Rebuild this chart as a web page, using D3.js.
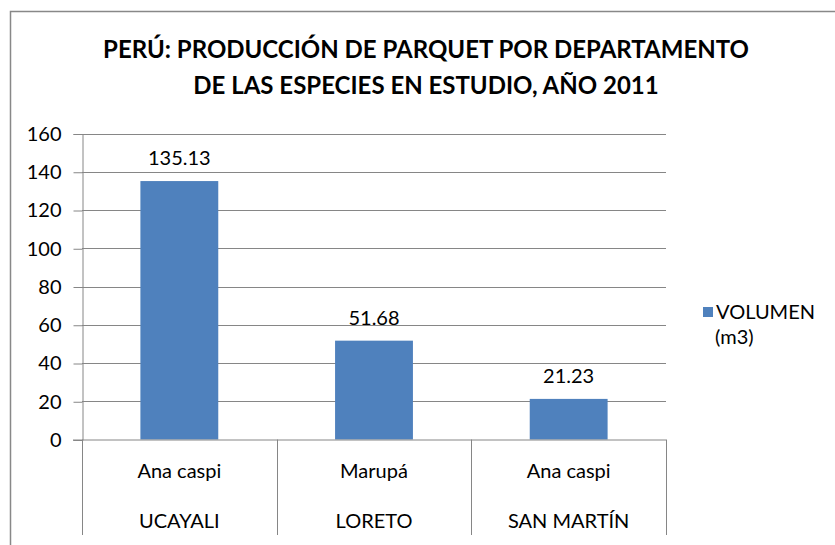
<!DOCTYPE html>
<html>
<head>
<meta charset="utf-8">
<script src="https://d3js.org/d3.v7.min.js"></script>
<style>
  body { margin: 0; background: #fff; }
  text { font-family: Lato, "Open Sans", sans-serif; fill: #000; }
  .grid line { stroke: #868686; stroke-width: 1px; }
</style>
</head>
<body>
<div id="chart"></div>
<script>
const species = ["Ana caspi", "Marupá", "Ana caspi"];
const departments = ["UCAYALI", "LORETO", "SAN MARTÍN"];
const volumes = [135.13, 51.68, 21.23];
const yTicks = [0, 20, 40, 60, 80, 100, 120, 140, 160];
const titleLines = ["PERÚ: PRODUCCIÓN DE PARQUET POR DEPARTAMENTO", "DE LAS ESPECIES EN ESTUDIO, AÑO 2011"];
const seriesName = ["VOLUMEN", "(m3)"];

const W = 835, H = 545;
const plotL = 82, plotR = 666, plotT = 133.5, plotB = 439.5;
const fs = "20px";

const svg = d3.select("#chart").append("svg")
  .attr("width", W).attr("height", H);

// outer frame
svg.append("rect")
  .attr("x", 10.5).attr("y", 11.5)
  .attr("width", 840).attr("height", 560)
  .attr("fill", "#fff").attr("stroke", "#888").attr("stroke-width", 1.5);

// title
svg.append("g").selectAll("text").data(titleLines).join("text")
  .attr("x", 426).attr("y", (d, i) => 58 + i * 36)
  .attr("text-anchor", "middle")
  .style("font-size", "24px").style("font-weight", "bold")
  .text(d => d);

const x = d3.scaleBand().domain(d3.range(volumes.length)).range([plotL, plotR]).paddingInner(0).paddingOuter(0);
const y = d3.scaleLinear().domain([0, 160]).range([plotB, plotT]);

// gridlines + y axis
const g = svg.append("g");
g.append("g").attr("class", "grid").selectAll("line").data(yTicks.filter(t => t > 0)).join("line")
  .attr("x1", plotL).attr("x2", plotR)
  .attr("y1", d => Math.round(y(d)) + 0.5).attr("y2", d => Math.round(y(d)) + 0.5);

const yAxis = g.append("g")
  .attr("transform", `translate(${plotL + 0.5},0.5)`)
  .call(d3.axisLeft(y).tickValues(yTicks).tickSize(9).tickPadding(12));
yAxis.select(".domain").attr("stroke", "#868686");
yAxis.selectAll(".tick line").attr("stroke", "#868686");
yAxis.selectAll(".tick text").style("font-size", fs).attr("fill", "#000");

// bars
const bw = x.bandwidth() * 0.4;
g.append("g").selectAll("rect").data(volumes).join("rect")
  .attr("x", (d, i) => x(i) + (x.bandwidth() - bw) / 2)
  .attr("y", d => y(d))
  .attr("width", bw)
  .attr("height", d => y(0) - y(d))
  .attr("fill", "#4F81BD");

// data labels
g.append("g").selectAll("text").data(volumes).join("text")
  .attr("x", (d, i) => x(i) + x.bandwidth() / 2)
  .attr("y", d => y(d) - 16)
  .attr("text-anchor", "middle")
  .style("font-size", fs)
  .text(d => d.toFixed(2));

// x axis baseline and category separators
g.append("line")
  .attr("x1", plotL - 9).attr("x2", plotR)
  .attr("y1", plotB + 0.5).attr("y2", plotB + 0.5)
  .attr("stroke", "#868686");
const sepX = d3.range(volumes.length + 1).map(i => i < volumes.length ? x(i) : x(i - 1) + x.bandwidth());
g.append("g").selectAll("line").data(sepX).join("line")
  .attr("x1", d => Math.round(d) + 0.5).attr("x2", d => Math.round(d) + 0.5)
  .attr("y1", plotB).attr("y2", 535)
  .attr("stroke", "#868686");

// two-level category labels
g.append("g").selectAll("text").data(species).join("text")
  .attr("x", (d, i) => x(i) + x.bandwidth() / 2)
  .attr("y", 478)
  .attr("text-anchor", "middle")
  .style("font-size", fs)
  .text(d => d);
g.append("g").selectAll("text").data(departments).join("text")
  .attr("x", (d, i) => x(i) + x.bandwidth() / 2)
  .attr("y", 528)
  .attr("text-anchor", "middle")
  .style("font-size", fs)
  .text(d => d);

// legend
const lg = svg.append("g");
lg.append("rect").attr("x", 703).attr("y", 307).attr("width", 10).attr("height", 10).attr("fill", "#4F81BD");
lg.selectAll("text").data(seriesName).join("text")
  .attr("x", (d, i) => i === 0 ? 716 : 715)
  .attr("y", (d, i) => 319 + i * 25)
  .style("font-size", fs)
  .text(d => d);
</script>
</body>
</html>
